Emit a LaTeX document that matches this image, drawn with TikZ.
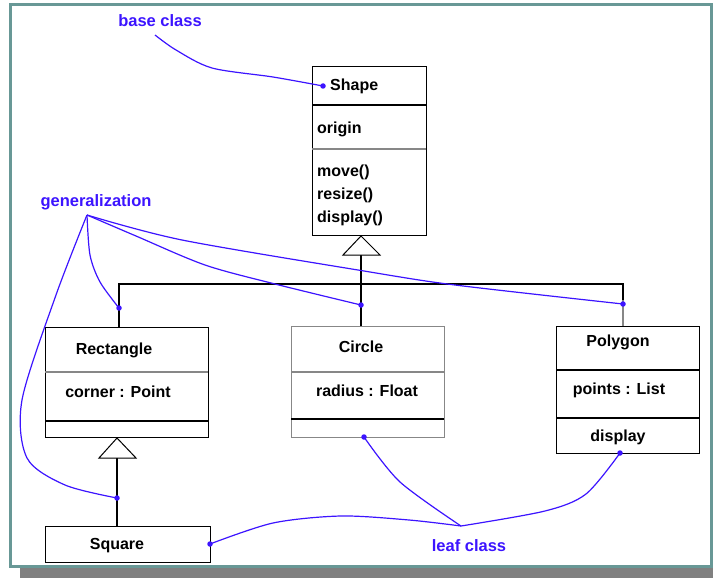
\documentclass[tikz,border=0pt]{standalone}
\usepackage{fontspec}
\setmainfont{Liberation Sans}
\definecolor{annot}{RGB}{60,20,255}
\definecolor{framecol}{RGB}{104,152,150}
\definecolor{shadowcol}{RGB}{128,128,128}
\definecolor{softline}{RGB}{135,135,135}
\begin{document}
\begin{tikzpicture}[x=1pt,y=-1pt,
  every node/.style={inner sep=0pt},
  classtext/.style={font=\bfseries\fontsize{16}{18}\selectfont, text=black},
  annottext/.style={font=\bfseries\fontsize{16.5}{18}\selectfont, text=annot},
  classbox/.style={draw=black, line width=1.4pt, anchor=north west, fill=white},
  softbox/.style={classbox, draw=softline},
  divider/.style={line width=1.4pt},
  softdivider/.style={line width=1.2pt, draw=softline},
  hier/.style={line width=1.4pt, line join=miter},
  gentri/.style={line width=1pt, fill=white},
  note/.style={draw=annot, line width=1.2pt},
  pin/.style={circle, fill=annot, minimum size=5.5pt}]

% page, frame and drop shadow
\useasboundingbox (0,0) rectangle (713,578);
\fill[shadowcol] (20,568) rectangle (713,578);
\draw[framecol, line width=3pt] (10,5) rectangle (711,566);

% ---------- class boxes ----------
\node[classbox, minimum width=114pt, minimum height=169pt] (shape) at (312,66) {};
\draw[divider] (312,105) -- (426,105);
\draw[softdivider] (312,149) -- (426,149);
\node[classtext, anchor=west] (shapename) at (330,86) {Shape};
\node[classtext, anchor=west] (shapeattr) at (317,129) {origin};
\node[classtext, anchor=west] (shapeop1) at (317,172) {move()};
\node[classtext, anchor=west] (shapeop2) at (317,195) {resize()};
\node[classtext, anchor=west] (shapeop3) at (317,218) {display()};

\node[classbox, minimum width=163pt, minimum height=110pt] (rect) at (45,327) {};
\draw[softdivider] (45,372) -- (208,372);
\draw[divider] (45,421) -- (208,421);
\node[classtext] (rectname) at (114,350) {Rectangle};
\node[classtext] (rectattr) at (118,392) {corner : Point};

\node[softbox, minimum width=153pt, minimum height=111pt] (circ) at (291,326) {};
\draw[softdivider] (291,372) -- (444,372);
\draw[divider] (291,419) -- (444,419);
\node[classtext] (circname) at (361,347) {Circle};
\node[classtext] (circattr) at (367,391) {radius : Float};

\node[classbox, minimum width=143pt, minimum height=127pt] (poly) at (556,326) {};
\draw[divider] (556,370) -- (699,370);
\draw[divider] (556,418) -- (699,418);
\node[classtext] (polyname) at (618,342) {Polygon};
\node[classtext] (polyattr) at (619,390) {points : List};
\node[classtext] (polyops) at (618,437) {display};

\node[classbox, minimum width=165pt, minimum height=36pt] (sq) at (45,526) {};
\node[classtext] (sqname) at (117,546) {Square};

% ---------- generalization tree ----------
\coordinate (shapetip) at (361,236);
\coordinate (shapebase) at (361,255);
\coordinate (bus) at (361,284);
\draw[hier] (circ.north -| shapebase) -- (shapebase);
\draw[hier] (rect.north -| 119,0) |- (bus);
\draw[hier] (bus) -| (623,300);
\draw[softdivider] (623,300) -- (poly.north -| 623,0);
\draw[gentri] (shapetip) -- (380,255) -- (343,255) -- cycle;

\coordinate (recttip) at (117,438);
\draw[hier] (sq.north -| recttip) -- (117,458);
\draw[gentri] (recttip) -- (136,458) -- (99,458) -- cycle;

% ---------- pins ----------
\node[pin] (pshape) at (323,86) {};
\node[pin] (prect) at (119,308) {};
\node[pin] (pcirc) at (361,305) {};
\node[pin] (ppoly) at (623,304) {};
\node[pin] (psq) at (117,498) {};
\node[pin] (pcircb) at (364,437) {};
\node[pin] (ppolyb) at (620,453) {};
\node[pin] (psqr) at (210,544) {};

% ---------- annotations ----------
\node[annottext] (basecls) at (160,21) {base class};
\node[annottext] (gencls) at (96,202) {generalization};
\node[annottext] (leafcls) at (469,546) {leaf class};
\coordinate (bcfoot) at (155,35);
\coordinate (genfoot) at (87,215);
\coordinate (leafjoin) at (461,526);

\draw[note] plot[smooth, tension=0.5] coordinates
  {(bcfoot) (176,50) (212,68) (273,77) (pshape)};

\draw[note] plot[smooth, tension=0.5] coordinates
  {(genfoot) (90,255) (100,282) (prect)};
\draw[note] plot[smooth, tension=0.5] coordinates
  {(genfoot) (136,236) (205,265) (275,284) (pcirc)};
\draw[note] plot[smooth, tension=0.5] coordinates
  {(genfoot) (182,240) (364,271) (455,285) (ppoly)};
\draw[note] plot[smooth, tension=0.5] coordinates
  {(genfoot) (56,295) (22,400) (27,458) (65,485) (psq)};

\draw[note] plot[smooth, tension=0.5] coordinates
  {(pcircb) (400,482) (leafjoin)};
\draw[note] plot[smooth, tension=0.5] coordinates
  {(ppolyb) (586,494) (545,511) (leafjoin)};
\draw[note] plot[smooth, tension=0.5] coordinates
  {(psqr) (273,523) (341,516) (409,520) (leafjoin)};
\end{tikzpicture}
\end{document}
